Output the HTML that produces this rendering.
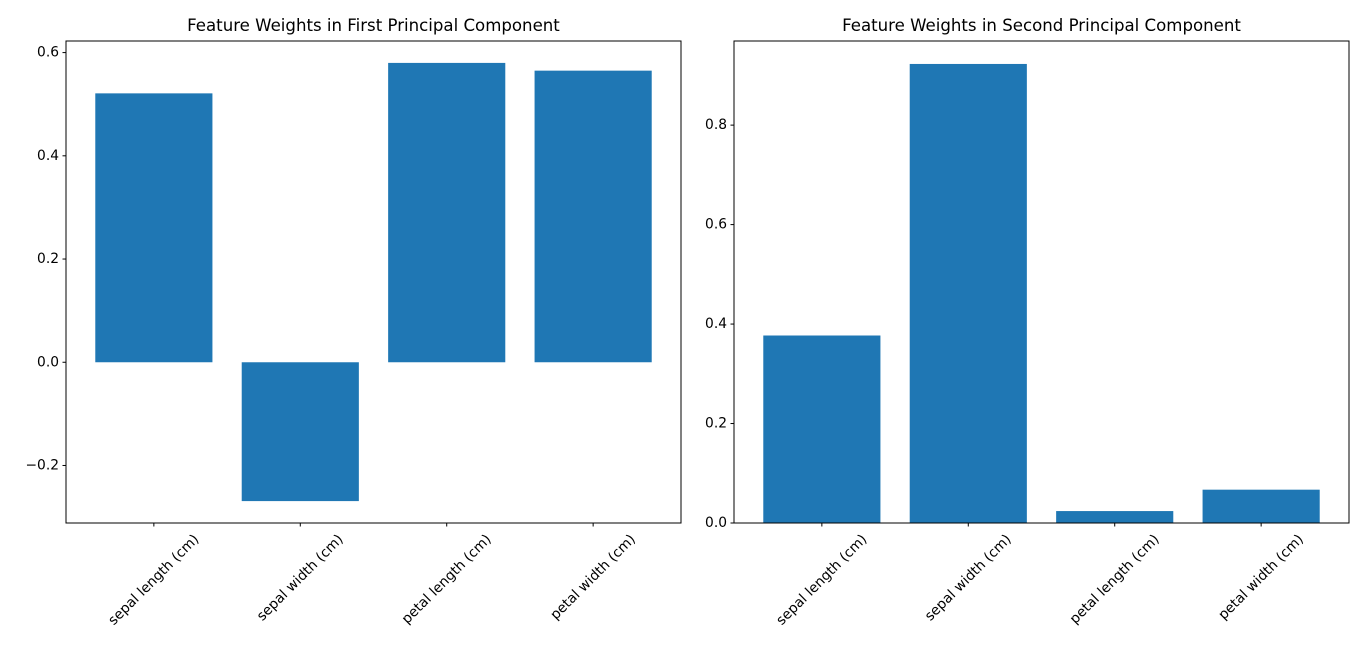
<!DOCTYPE html>
<html><head><meta charset="utf-8"><style>
html,body{margin:0;padding:0;background:#fff;}
svg{display:block;font-family:"DejaVu Sans","Liberation Sans",sans-serif;}
</style></head><body>
<svg id="chart" width="1366" height="655" xmlns="http://www.w3.org/2000/svg"></svg>
<script>
const categories = ["sepal length (cm)","sepal width (cm)","petal length (cm)","petal width (cm)"];
const pc1Values = [0.521, -0.269, 0.580, 0.565];
const pc2Values = [0.377, 0.923, 0.024, 0.067];
const pc1Ticks = [-0.2, 0.0, 0.2, 0.4, 0.6];
const pc1TickLabels = ["\u22120.2","0.0","0.2","0.4","0.6"];
const pc2Ticks = [0.0, 0.2, 0.4, 0.6, 0.8];
const pc2TickLabels = ["0.0","0.2","0.4","0.6","0.8"];
const titles = ["Feature Weights in First Principal Component","Feature Weights in Second Principal Component"];

const svg = document.getElementById('chart');
const NS = "http://www.w3.org/2000/svg";
function mk(tag, attrs, parent){const e=document.createElementNS(NS,tag);for(const k in attrs)e.setAttribute(k,attrs[k]);(parent||svg).appendChild(e);return e;}

function drawPanel(idx, left, values, ticks, tickLabels, title){
  const top=41, bottom=523, right=left+615;
  let lo=Math.min(0,...values), hi=Math.max(0,...values);
  const m=(hi-lo)*0.05;
  let ymin = lo<0 ? lo-m : 0, ymax = hi+m;
  const y = v => bottom - (v-ymin)/(ymax-ymin)*(bottom-top);
  const x = v => left + (v+0.6)/4.2*(right-left);
  const g = mk('g',{});
  
  
  values.forEach((v,i)=>{
    const r = mk('rect',{x:x(i-0.4), y:Math.min(y(v),y(0)), width:x(i+0.4)-x(i-0.4), height:Math.abs(y(v)-y(0)), fill:'#1f77b4'}, g);
    
    
  });
  const frame = mk('rect',{x:left,y:top,width:right-left,height:bottom-top,fill:'none',stroke:'#000','stroke-width':1}, g);
  
  
  ticks.forEach((t,i)=>{
    const yy=y(t);
    mk('line',{x1:left-3.5,x2:left,y1:yy,y2:yy,stroke:'#000','stroke-width':1},g);
    const tx = mk('text',{x:left-7,y:yy,'text-anchor':'end','dominant-baseline':'central','font-size':'13.8px',fill:'#000'},g);
    tx.textContent=tickLabels[i];
    
    
  });
  categories.forEach((c,i)=>{
    const xx=x(i);
    mk('line',{x1:xx,x2:xx,y1:bottom,y2:bottom+3.5,stroke:'#000','stroke-width':1},g);
    const tx = mk('text',{'text-anchor':'middle','dominant-baseline':'central','font-size':'13.8px',fill:'#000'},g);
    tx.textContent=c;
    
    
    const w = tx.getComputedTextLength();
    const h = (w+16)*0.7071;
    const cy = bottom+3.5+5+h/2;
    tx.setAttribute('x', xx); tx.setAttribute('y', cy);
    tx.setAttribute('transform','rotate(-45 '+xx+' '+cy+')');
  });
  const tt = mk('text',{x:(left+right)/2,y:top-10,'text-anchor':'middle','font-size':'16.6px',fill:'#000'},g);
  tt.textContent=title;
  
  
}
drawPanel(0, 66, pc1Values, pc1Ticks, pc1TickLabels, titles[0]);
drawPanel(1, 734, pc2Values, pc2Ticks, pc2TickLabels, titles[1]);
</script>
</body></html>
